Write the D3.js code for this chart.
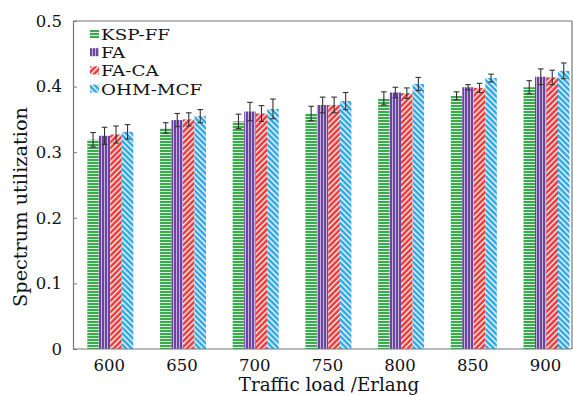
<!DOCTYPE html>
<html><head><meta charset="utf-8">
<script src="https://cdn.jsdelivr.net/npm/d3@7"></script>
<style>body{margin:0;background:#fff}svg{display:block}text{font-family:"DejaVu Serif",serif;fill:#111}</style>
</head><body><div id="c"></div>
<script>
const categories = ["600","650","700","750","800","850","900"];
const seriesNames = ["KSP-FF","FA","FA-CA","OHM-MCF"];
const kspff = [0.319,0.337,0.347,0.359,0.382,0.386,0.399];
const fa    = [0.325,0.349,0.362,0.372,0.391,0.399,0.415];
const faca  = [0.327,0.350,0.359,0.372,0.390,0.398,0.414];
const ohm   = [0.331,0.355,0.366,0.378,0.404,0.413,0.424];
const errK  = [0.011,0.008,0.011,0.011,0.010,0.006,0.010];
const errF  = [0.013,0.010,0.014,0.012,0.008,0.004,0.012];
const errC  = [0.013,0.010,0.012,0.012,0.008,0.007,0.011];
const errO  = [0.011,0.010,0.015,0.013,0.010,0.006,0.012];
const yTicks = [0,0.1,0.2,0.3,0.4,0.5];
const values = [kspff,fa,faca,ohm];
const errs = [errK,errF,errC,errO];

const W=573,H=395, L=73, T=21, B=349, R=572;
const svg=d3.select("#c").append("svg").attr("width",W).attr("height",H);
const defs=svg.append("defs");
function pat(id,color,rot,period){
  const p=defs.append("pattern").attr("id",id).attr("patternUnits","userSpaceOnUse")
    .attr("width",period).attr("height",period);
  if(rot!==null) p.attr("patternTransform","rotate("+rot+")");
  p.append("rect").attr("width",period).attr("height",period).attr("fill",color);
  return p;
}
let p=pat("pK","#3ea851",null,3);
p.append("rect").attr("x",0).attr("y",2).attr("width",3).attr("height",1).attr("fill","#d3f0d8");
p=pat("pF","#6a459c",null,3);
p.append("rect").attr("x",2).attr("y",0).attr("width",1).attr("height",3).attr("fill","#c6b3e0");
p=pat("pC","#ef3535",45,4);
p.append("rect").attr("x",0).attr("y",0).attr("width",1.4).attr("height",4).attr("fill","#ffffff");
p=pat("pO","#2ea6e2",-45,4);
p.append("rect").attr("x",0).attr("y",0).attr("width",1.4).attr("height",4).attr("fill","#ffffff");
const fills=["url(#pK)","url(#pF)","url(#pC)","url(#pO)"];

const y=d3.scaleLinear().domain([0,0.5]).range([B,T]);
const x=d3.scaleBand().domain(categories).range([59.9, 59.9+7*72.7]);
const xs=d3.scaleBand().domain(seriesNames).range([0,46]);
const off=27.4;

svg.append("line").attr("x1",L).attr("x2",R).attr("y1",T).attr("y2",T).attr("stroke","#777").attr("stroke-width",1.2);
svg.append("line").attr("x1",R).attr("x2",R).attr("y1",T).attr("y2",B).attr("stroke","#777").attr("stroke-width",1.2);

seriesNames.forEach((s,si)=>{
  svg.append("g").selectAll("rect").data(categories).join("rect")
    .attr("x",c=>x(c)+off+xs(s)).attr("width",xs.bandwidth())
    .attr("y",(c,i)=>y(values[si][i])).attr("height",(c,i)=>B-y(values[si][i]))
    .attr("fill",fills[si]);
});
seriesNames.forEach((s,si)=>{
  const g=svg.append("g").attr("stroke","#333").attr("stroke-width",1.1);
  categories.forEach((c,i)=>{
    const cx=x(c)+off+xs(s)+xs.bandwidth()/2;
    const v=values[si][i], e=errs[si][i];
    g.append("line").attr("x1",cx).attr("x2",cx).attr("y1",y(v+e)).attr("y2",y(v-e));
    g.append("line").attr("x1",cx-2.8).attr("x2",cx+2.8).attr("y1",y(v+e)).attr("y2",y(v+e));
    g.append("line").attr("x1",cx-2.8).attr("x2",cx+2.8).attr("y1",y(v-e)).attr("y2",y(v-e));
  });
});

const ya=svg.append("g").attr("transform","translate("+L+",0)")
  .call(d3.axisLeft(y).tickValues(yTicks).tickSize(-4).tickPadding(11).tickFormat(d=>d===0?"0":d3.format(".1f")(d)));
ya.selectAll("text").attr("font-size",16.5).style("font-family","DejaVu Serif");
ya.select(".domain").attr("stroke","#777").attr("stroke-width",1.2);
ya.selectAll(".tick line").attr("stroke","#777");
const xa=svg.append("g").attr("transform","translate(0,"+B+")")
  .call(d3.axisBottom(x).tickSize(0).tickPadding(10));
xa.selectAll(".tick").attr("transform",c=>"translate("+(x(c)+off+22)+",0)");
xa.selectAll("text").attr("font-size",16.5).style("font-family","DejaVu Serif");
xa.select(".domain").attr("d","M"+L+",0H"+R).attr("stroke","#777").attr("stroke-width",1.2);

svg.append("text").attr("x",329).attr("y",391).attr("text-anchor","middle").attr("font-size",18.3).text("Traffic load /Erlang");
svg.append("text").attr("transform","translate(27,207) rotate(-90)").attr("text-anchor","middle").attr("font-size",19.3).text("Spectrum utilization");

const lg=svg.append("g");
seriesNames.forEach((s,i)=>{
  const cy=34+i*18.2;
  lg.append("rect").attr("x",90).attr("y",cy-4).attr("width",9).attr("height",8).attr("fill",fills[i]);
  lg.append("text").attr("transform","translate(101,"+(cy+6)+") scale(1.18,1)").attr("font-size",15.5).text(s);
});
</script></body></html>
